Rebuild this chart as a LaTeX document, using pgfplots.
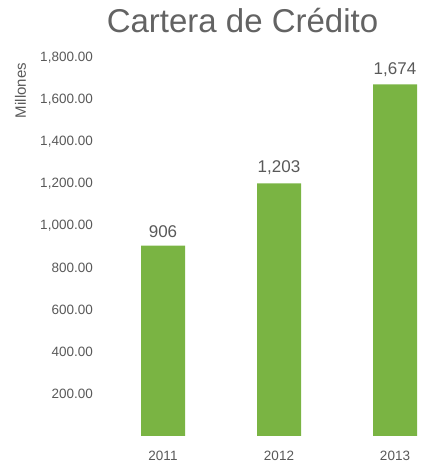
\documentclass[border=0pt]{standalone}
\usepackage{pgfplots}
\pgfplotsset{compat=1.18}
\usepackage{fontspec}
\setmainfont{Liberation Sans}
\definecolor{bargreen}{HTML}{7AB443}
\definecolor{txtgray}{HTML}{595959}
\definecolor{titlegray}{HTML}{636363}
\begin{document}
\begin{tikzpicture}[x=1pt,y=1pt]
\path[use as bounding box] (0,0) rectangle (421,466);
\begin{axis}[
  at={(105pt,30pt)}, anchor=south west,
  scale only axis, width=316pt, height=388.5pt,
  xmin=-0.5, xmax=2.224, ymin=0, ymax=1850,
  axis line style={draw=none}, tick style={draw=none},
  major tick length=0pt,
  xtick={0,1,2}, xticklabels={2011,2012,2013},
  ytick={200,400,600,800,1000,1200,1400,1600,1800},
  /pgf/number format/assume math mode=true,
  scaled y ticks=false,
  yticklabel style={/pgf/number format/fixed, /pgf/number format/fixed zerofill, /pgf/number format/precision=2, /pgf/number format/1000 sep={,}},
  yticklabel style={font=\fontsize{13.5}{15}\selectfont, text=txtgray, anchor=east, inner sep=0pt, xshift=-12pt},
  xticklabel style={font=\fontsize{13.5}{15}\selectfont, text=txtgray, anchor=north, inner sep=0pt, yshift=-15pt},
  ybar, bar width=44pt,
  nodes near coords,
  nodes near coords style={font=\fontsize{17}{19}\selectfont, text=txtgray, anchor=south, inner sep=0pt, yshift=8pt,
    /pgf/number format/fixed, /pgf/number format/precision=0, /pgf/number format/1000 sep={,}},
]
\addplot[fill=bargreen, draw=none] coordinates {(0,906) (1,1203) (2,1674)};
\end{axis}
\node[anchor=base, text=titlegray, font=\fontsize{33}{38}\selectfont] at (242.5,433) {Cartera de Crédito};
\node[rotate=90, text=txtgray, font=\fontsize{15}{17}\selectfont] at (20.5,375.5) {Millones};
\end{tikzpicture}
\end{document}
